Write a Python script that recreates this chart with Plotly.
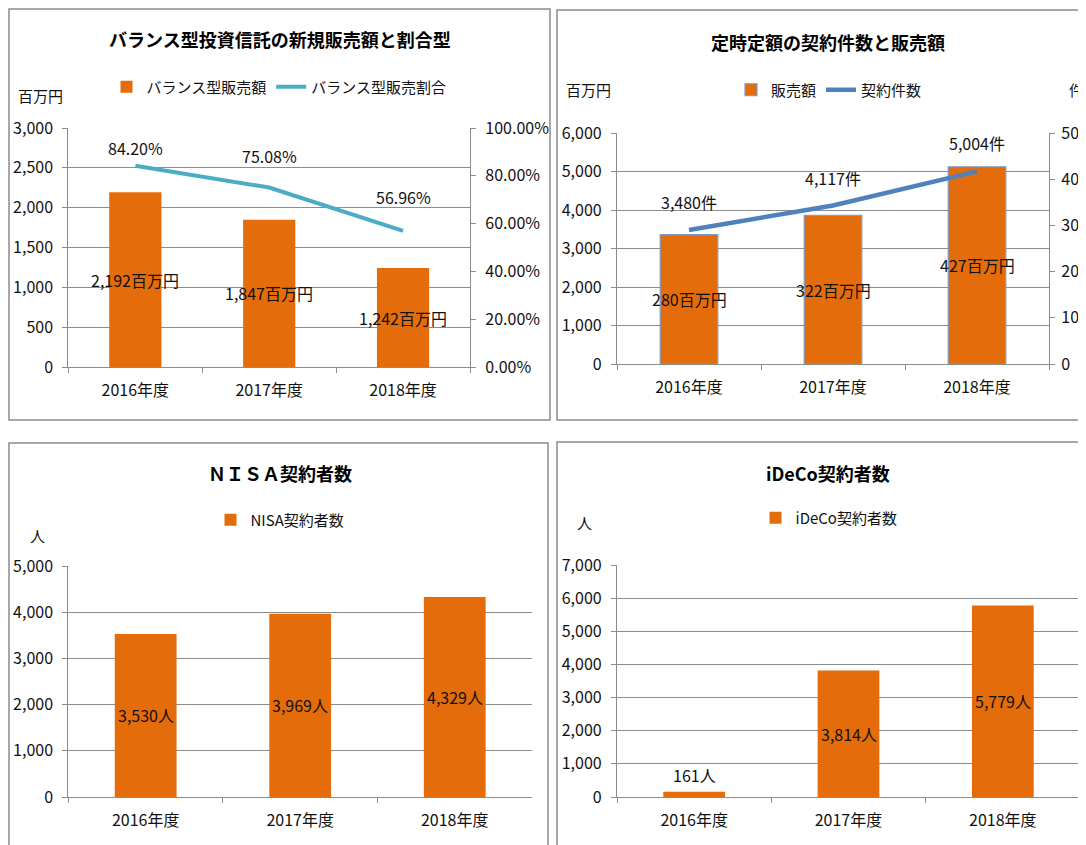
import plotly.graph_objects as go

# -----------------------------
# DATA
# -----------------------------
YEARS = ["2016年度", "2017年度", "2018年度"]

# chart 1: バランス型投資信託
BALANCE_SALES = [2192, 1847, 1242]          # 百万円
BALANCE_RATIO = [0.8420, 0.7508, 0.5696]    # 割合

# chart 2: 定時定額
TEIJI_SALES = [280, 322, 427]               # 百万円
TEIJI_COUNT = [3480, 4117, 5004]            # 件

# chart 3 / 4
NISA_USERS = [3530, 3969, 4329]             # 人
IDECO_USERS = [161, 3814, 5779]             # 人

# -----------------------------
# STYLE
# -----------------------------
W, H = 1086, 845
OFF = 8   # page body margin, positions below are measured on the screen
FONT = "Noto Sans CJK JP"
ORANGE = "#E46C0A"
AQUA = "#4BACC6"
BLUE = "#4F81BD"
GRID = "#8C8C8C"
TXT = "#111111"

RATIO_LABEL_SHIFT = [18, 32, 34]   # excel labels were nudged by hand


def px(x):
    return (x - OFF) / W


def py(y):
    return 1 - (y - OFF) / H


def fmt(v):
    return f"{v:,}"


fig = go.Figure()

# chart 1
fig.add_trace(go.Bar(
    x=YEARS, y=BALANCE_SALES, name="バランス型販売額",
    marker=dict(color=ORANGE, line=dict(width=0)), width=0.39,
    xaxis="x", yaxis="y", legend="legend",
))
fig.add_trace(go.Scatter(
    x=YEARS, y=BALANCE_RATIO, name="バランス型販売割合", mode="lines",
    line=dict(color=AQUA, width=4), xaxis="x", yaxis="y2", legend="legend",
))

# chart 2 (bars on the right-hand 百万円 scale, line on the left scale)
fig.add_trace(go.Bar(
    x=YEARS, y=TEIJI_SALES, name="販売額",
    marker=dict(color=ORANGE, line=dict(color="#7F9DC8", width=1.2)), width=0.40,
    xaxis="x2", yaxis="y3", legend="legend2",
))
fig.add_trace(go.Scatter(
    x=YEARS, y=TEIJI_COUNT, name="契約件数", mode="lines",
    line=dict(color=BLUE, width=4.5), xaxis="x2", yaxis="y4", legend="legend2",
))

# chart 3
fig.add_trace(go.Bar(
    x=YEARS, y=NISA_USERS, name="NISA契約者数",
    marker=dict(color=ORANGE, line=dict(width=0)), width=0.40,
    xaxis="x3", yaxis="y5", legend="legend3",
))

# chart 4
fig.add_trace(go.Bar(
    x=YEARS, y=IDECO_USERS, name="iDeCo契約者数",
    marker=dict(color=ORANGE, line=dict(width=0)), width=0.40,
    xaxis="x4", yaxis="y6", legend="legend4",
))

# -----------------------------
# AXES
# -----------------------------
tickfont = dict(family=FONT, size=16, color=TXT)


def xax(domain, anchor):
    return dict(
        domain=domain, anchor=anchor, type="category", tickson="boundaries",
        ticks="outside", ticklen=5, tickcolor=GRID, showline=True, linecolor=GRID,
        linewidth=1.3, showgrid=False, tickfont=tickfont, ticklabelstandoff=9,
        automargin=False, fixedrange=True,
    )


def yax(domain, anchor, rng, dtick, grid=True, **kw):
    d = dict(
        domain=domain, anchor=anchor, range=rng, dtick=dtick, tickformat=",d",
        ticks="outside", ticklen=5, tickcolor=GRID, showline=True, linecolor=GRID,
        linewidth=1.3, showgrid=grid, gridcolor=GRID, gridwidth=1.3,
        zeroline=False, tickfont=tickfont, ticklabelstandoff=6,
        automargin=False, fixedrange=True,
    )
    d.update(kw)
    return d


fig.update_layout(
    xaxis=xax([px(68.4), px(470)], "y"),
    yaxis=yax([py(367), py(128)], "x", [0, 3000], 500),
    yaxis2=yax(None, "x", [0, 1], 0.2, grid=False, overlaying="y", side="right",
               tickformat=".2%", ticklabelstandoff=6),
    xaxis2=xax([px(617), px(1049)], "y3"),
    yaxis3=yax([py(364), py(133)], "x2", [0, 500], 100, grid=False, side="right",
               ticklabelstandoff=3),
    yaxis4=yax(None, "x2", [0, 6000], 1000, overlaying="y3", side="left"),
    xaxis3=xax([px(68.4), px(532)], "y5"),
    yaxis5=yax([py(797), py(566)], "x3", [0, 5000], 1000),
    xaxis4=xax([px(617), px(1080)], "y6"),
    yaxis6=yax([py(797), py(565)], "x4", [0, 7000], 1000),
)
fig.layout.yaxis2.pop("domain")
fig.layout.yaxis4.pop("domain")

# -----------------------------
# LEGENDS
# -----------------------------
legfont = dict(family=FONT, size=15, color=TXT)


def leg(xc, yc):
    return dict(
        x=px(xc), y=py(yc), xanchor="center", yanchor="middle",
        orientation="h", font=legfont, bgcolor="rgba(0,0,0,0)",
        itemwidth=30, tracegroupgap=0,
    )


fig.update_layout(
    legend=leg(279, 87),
    legend2=leg(829, 90),
    legend3=leg(280, 520),
    legend4=leg(829, 518),
)

# -----------------------------
# TEXT
# -----------------------------
ann = []
labfont = dict(family=FONT, size=16, color=TXT)

for x, v in zip(YEARS, BALANCE_SALES):
    ann.append(dict(x=x, y=v / 2, xref="x", yref="y", text=f"{fmt(v)}百万円",
                    showarrow=False, font=labfont))
for x, v, s in zip(YEARS, BALANCE_RATIO, RATIO_LABEL_SHIFT):
    ann.append(dict(x=x, y=v, xref="x", yref="y2", text=f"{v * 100:.2f}%",
                    showarrow=False, font=labfont, yshift=s))

for x, v in zip(YEARS, TEIJI_SALES):
    ann.append(dict(x=x, y=v / 2, xref="x2", yref="y3", text=f"{v}百万円",
                    showarrow=False, font=labfont))
for x, v in zip(YEARS, TEIJI_COUNT):
    ann.append(dict(x=x, y=v, xref="x2", yref="y4", text=f"{fmt(v)}件",
                    showarrow=False, font=labfont, yshift=28))

for x, v in zip(YEARS, NISA_USERS):
    ann.append(dict(x=x, y=v / 2, xref="x3", yref="y5", text=f"{fmt(v)}人",
                    showarrow=False, font=labfont))

for x, v in zip(YEARS, IDECO_USERS):
    if v < 1000:
        # too small for the bar, label sits on top
        ann.append(dict(x=x, y=v, xref="x4", yref="y6", text=f"{fmt(v)}人",
                        showarrow=False, font=labfont, yshift=17))
    else:
        ann.append(dict(x=x, y=v / 2, xref="x4", yref="y6", text=f"{fmt(v)}人",
                        showarrow=False, font=labfont))

titlefont = dict(family=FONT, size=18, color="#000000")
titles = [
    ("バランス型投資信託の新規販売額と割合型", 279.5, 39),
    ("定時定額の契約件数と販売額", 828, 42),
    ("ＮＩＳＡ契約者数", 279.5, 473),
    ("iDeCo契約者数", 828, 473),
]
for t, xc, yc in titles:
    ann.append(dict(x=px(xc), y=py(yc), xref="paper", yref="paper", text=f"<b>{t}</b>",
                    showarrow=False, font=titlefont, xanchor="center", yanchor="middle"))

unitfont = dict(family=FONT, size=15, color=TXT)
units = [
    ("百万円", 40, 95),
    ("百万円", 588, 90),
    ("件", 1076, 90),
    ("人", 37, 535),
    ("人", 584, 522),
]
for t, xc, yc in units:
    ann.append(dict(x=px(xc), y=py(yc), xref="paper", yref="paper", text=t,
                    showarrow=False, font=unitfont, xanchor="center", yanchor="middle"))

# panel frames
shapes = []
for x0, y0, x1, y1 in [(9, 9, 550, 420), (557, 10, 1098, 420),
                       (9, 443, 548, 870), (557, 442, 1098, 870)]:
    shapes.append(dict(type="rect", xref="paper", yref="paper",
                       x0=px(x0), x1=px(x1), y0=py(y1), y1=py(y0),
                       line=dict(color=GRID, width=1.5), layer="below"))

fig.update_layout(
    width=W, height=H,
    margin=dict(l=0, r=0, t=0, b=0, pad=0, autoexpand=False),
    paper_bgcolor="white", plot_bgcolor="white",
    annotations=ann, shapes=shapes,
    font=dict(family=FONT, color=TXT),
    showlegend=True, hovermode=False,
)

fig.write_html("out.html")
